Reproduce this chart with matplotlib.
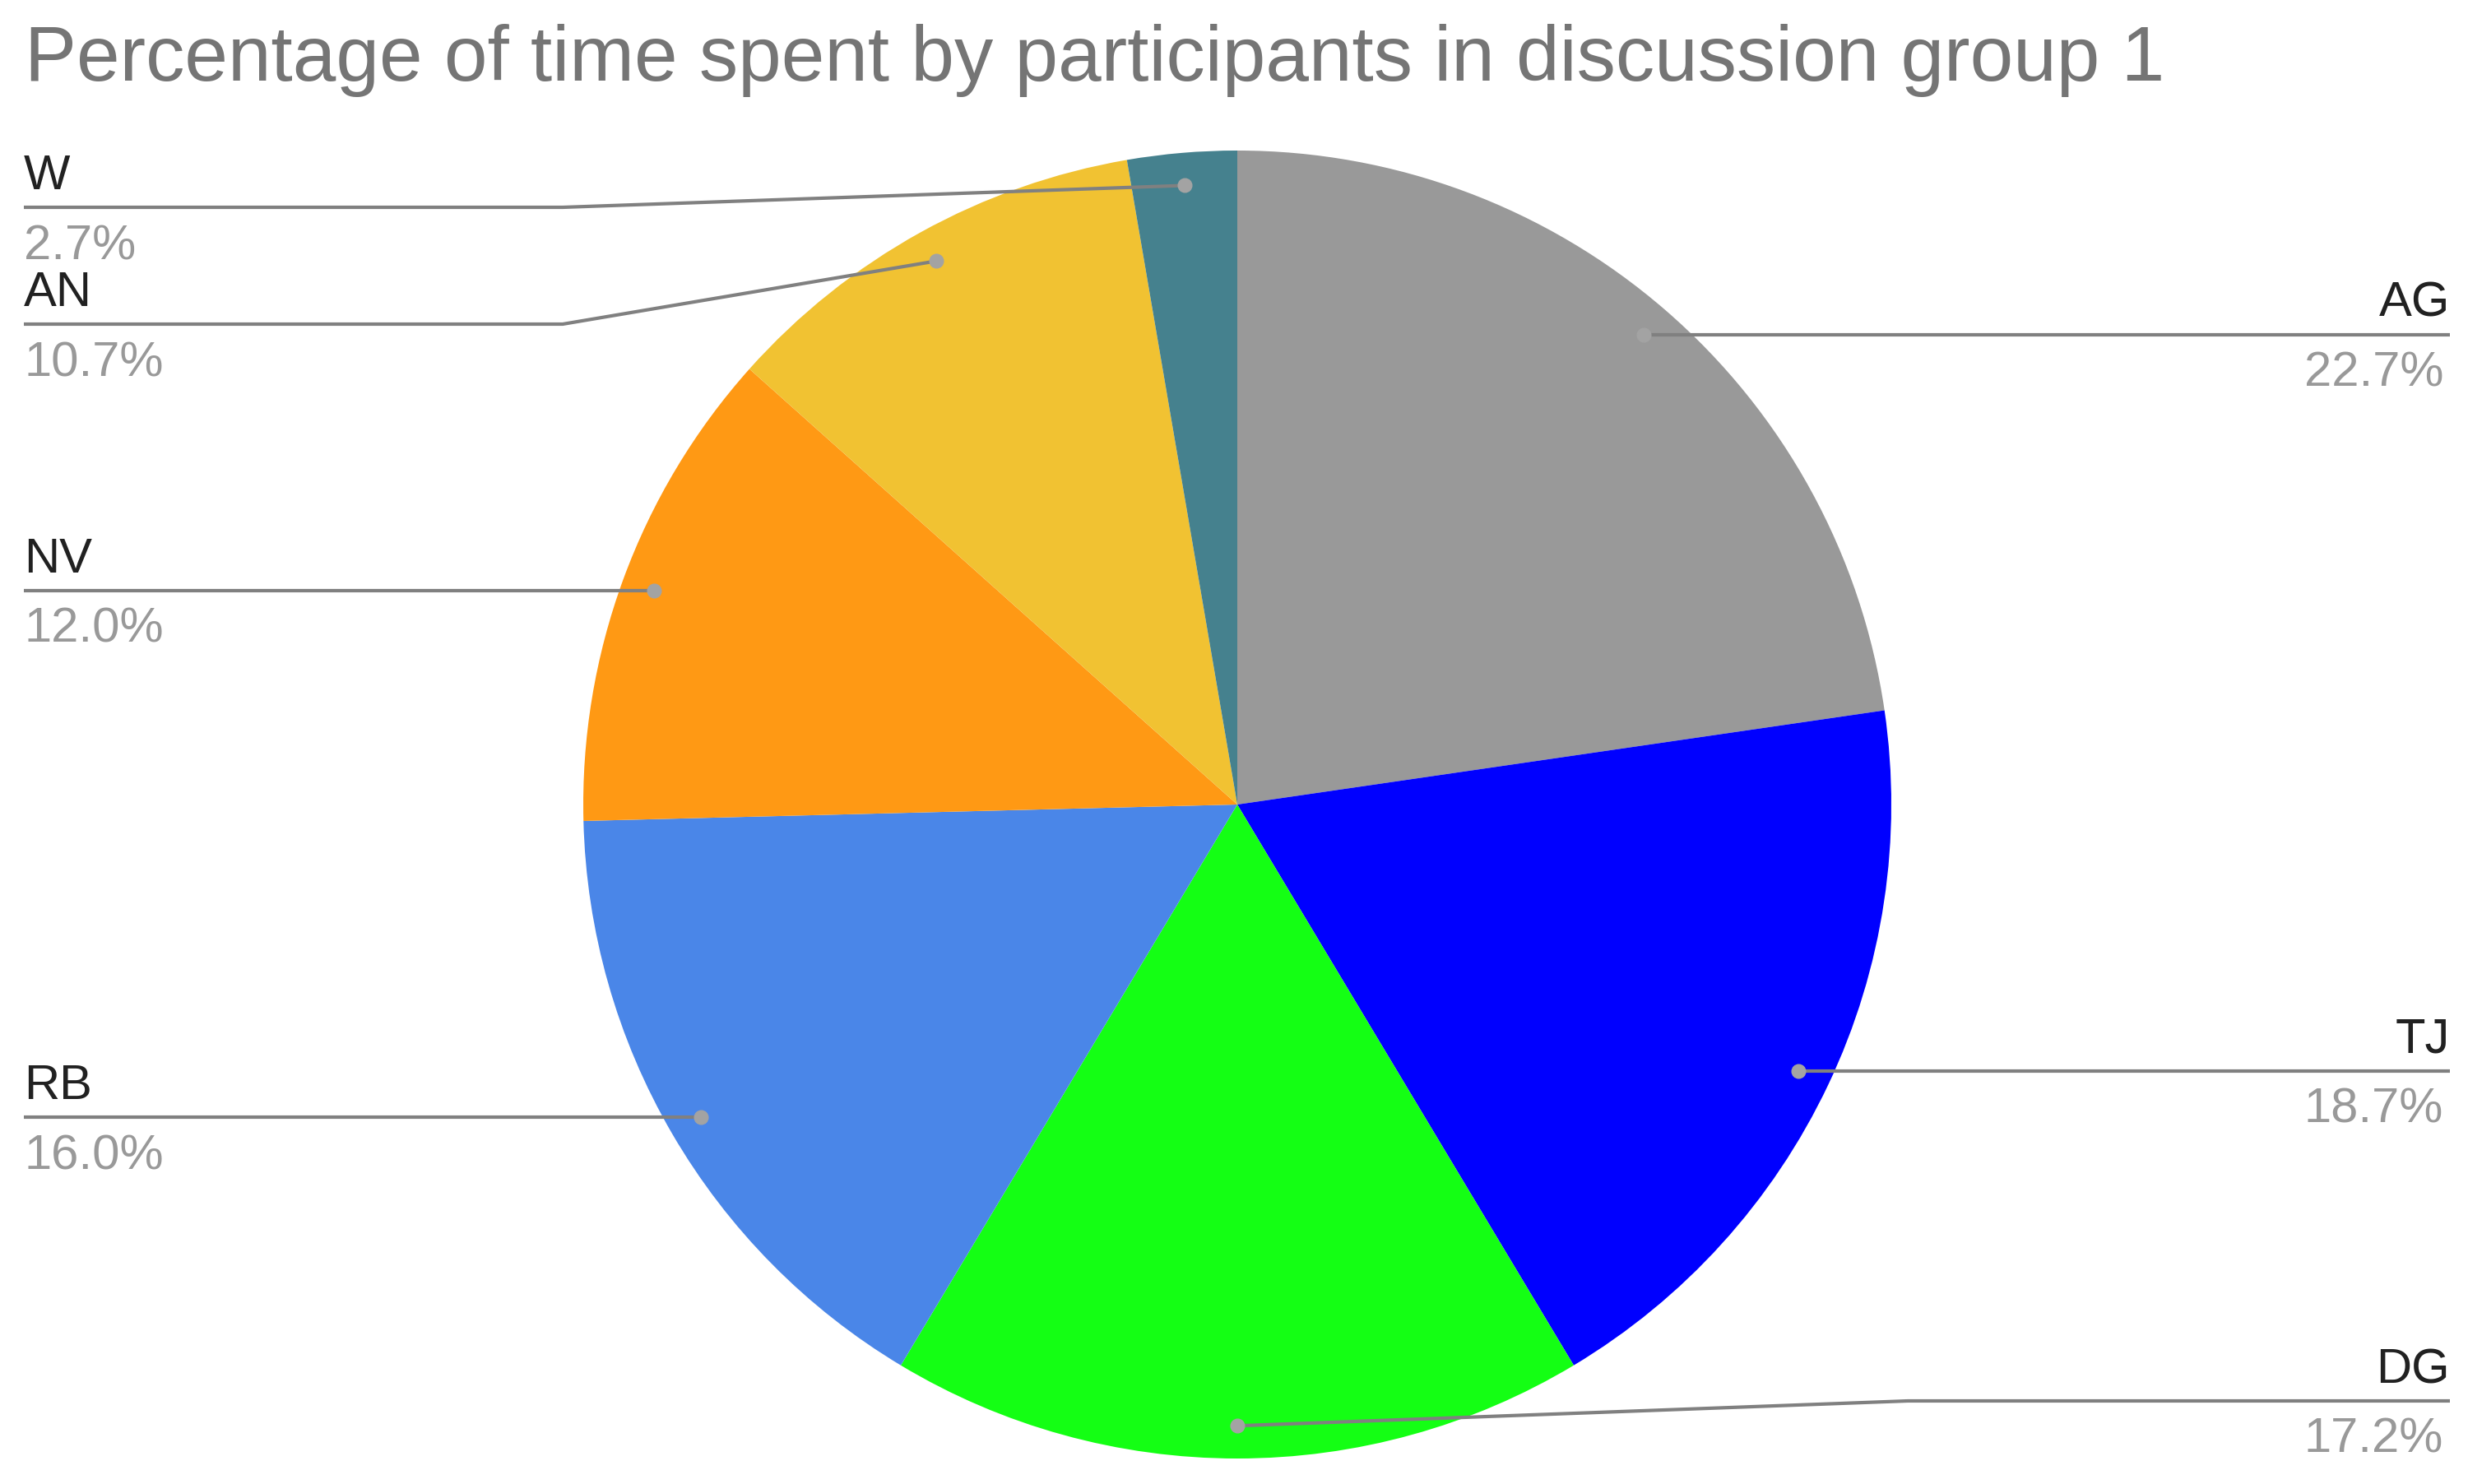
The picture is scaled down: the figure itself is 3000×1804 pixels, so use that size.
import matplotlib.pyplot as plt
import numpy as np

plt.rcParams['font.family'] = ['Liberation Sans', 'DejaVu Sans']

# data
names = ['AG', 'TJ', 'DG', 'RB', 'NV', 'AN', 'W']
shares = [22.7, 18.7, 17.2, 16.0, 12.0, 10.7, 2.7]
colors = ['#999999', '#0000ff', '#14ff14', '#4a86e8', '#ff9914', '#f1c232', '#45818e']

# label layout (image pixel coords, y measured from top); None = same height as the dot
sides = ['right', 'right', 'right', 'left', 'left', 'left', 'left']
label_y = [None, None, 1703, None, None, 394, 252]
elbow_x = [None, None, 2319, None, None, 684, 684]

W, H = 3000, 1804
cx, cy, r = 1504, H - 978, 795

fig = plt.figure(figsize=(W / 100, H / 100), dpi=100)
ax = fig.add_axes([0, 0, 1, 1])

ax.pie(shares, colors=colors, startangle=90, counterclock=False,
       center=(cx, cy), radius=r, wedgeprops=dict(linewidth=0))
ax.set_xlim(0, W)
ax.set_ylim(0, H)
ax.set_aspect('equal')
ax.axis('off')

fig.text(30 / W, 1 - 98 / H, 'Percentage of time spent by participants in discussion group 1',
         fontsize=68, color='#757575', ha='left', va='baseline')

cum = np.cumsum([0] + shares[:-1])
for i, name in enumerate(names):
    mid = (cum[i] + shares[i] / 2) / 100
    ang = np.deg2rad(90 - 360 * mid)
    dx = cx + 0.95 * r * np.cos(ang)
    dy = cy + 0.95 * r * np.sin(ang)
    ly = dy if label_y[i] is None else H - label_y[i]
    ex = dx if elbow_x[i] is None else elbow_x[i]
    if sides[i] == 'right':
        end, ha, tx = 2978, 'right', 2978
    else:
        end, ha, tx = 29, 'left', 29
    ax.plot([dx, ex, end], [dy, ly, ly], color='#808080', lw=3,
            solid_capstyle='butt', zorder=3)
    ax.plot(dx, dy, 'o', color='#a3a3a3', markersize=12, zorder=4)
    ax.text(tx, ly + 22, name, fontsize=43, color='#212121', ha=ha, va='baseline')
    ax.text(tx - (8 if ha == 'right' else 0), ly - 20, f'{shares[i]:.1f}%', fontsize=43,
            color='#999999', ha=ha, va='top')

fig.savefig('out.png', dpi=100, facecolor='white')
